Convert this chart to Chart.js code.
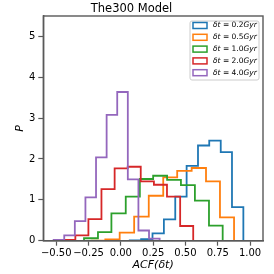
<!DOCTYPE html>
<html>
<head>
<meta charset="utf-8">
<script src="https://cdn.jsdelivr.net/npm/chart.js@4.4.0/dist/chart.umd.min.js"></script>
<style>
  html, body { margin: 0; padding: 0; background: #fff; }
</style>
</head>
<body>
<canvas id="histChart" width="274" height="274"></canvas>
<script>
// delta t values (Gyr), one histogram each
const deltaT = ['0.2', '0.5', '1.0', '2.0', '4.0'];
const colors = ['#1f77b4', '#ff7f0e', '#2ca02c', '#d62728', '#9467bd'];

// bin edges + densities
const edges02 = [0.069, 0.157, 0.245, 0.333, 0.421, 0.509, 0.597, 0.684, 0.773, 0.860, 0.948];
const dens02 = [0.01, 0.04, 0.18, 0.52, 1.08, 1.83, 2.33, 2.45, 2.17, 0.82];

const edges05 = [-0.232, -0.120, -0.009, 0.103, 0.216, 0.328, 0.436, 0.548, 0.659, 0.767, 0.876];
const dens05 = [0.0, 0.03, 0.20, 0.59, 1.10, 1.55, 1.71, 1.78, 1.45, 0.57];

const edges10 = [-0.285, -0.177, -0.073, 0.038, 0.147, 0.250, 0.358, 0.465, 0.573, 0.682, 0.788];
const dens10 = [0.06, 0.21, 0.67, 1.08, 1.51, 1.59, 1.49, 1.36, 0.98, 0.37];

const edges20 = [-0.454, -0.352, -0.251, -0.150, -0.048, 0.053, 0.154, 0.256, 0.357, 0.459, 0.560];
const dens20 = [0.02, 0.13, 0.53, 1.26, 1.77, 1.81, 1.45, 1.37, 1.08, 0.36];

const edges40 = [-0.520, -0.438, -0.356, -0.274, -0.192, -0.110, -0.028, 0.054, 0.136, 0.218, 0.300];
const dens40 = [0.02, 0.13, 0.48, 1.06, 2.04, 3.08, 3.64, 1.50, 0.25, 0.05];

const xTicks = [-0.5, -0.25, 0, 0.25, 0.5, 0.75, 1.0];
const yTicks = [0, 1, 2, 3, 4, 5];

const allEdges = [edges02, edges05, edges10, edges20, edges40];
const allDens = [dens02, dens05, dens10, dens20, dens40];

const axisColor = '#595959';
const font = 'DejaVu Sans';

// outline of a step histogram (histtype='step')
function stepOutline(edges, dens) {
  const pts = [{ x: edges[0], y: 0 }];
  dens.forEach((d, i) => {
    pts.push({ x: edges[i], y: d });
    pts.push({ x: edges[i + 1], y: d });
  });
  pts.push({ x: edges[edges.length - 1], y: 0 });
  return pts;
}

const datasets = deltaT.map((dt, i) => ({
  label: '\u03b4t = ' + dt + 'Gyr',
  data: stepOutline(allEdges[i], allDens[i]),
  borderColor: colors[i],
  borderWidth: 1.8,
  pointRadius: 0,
  fill: false,
  tension: 0,
  order: deltaT.length - 1 - i
}));

const framePlugin = {
  id: 'frame',
  afterDatasetsDraw(chart) {
    const { ctx, chartArea: a } = chart;
    ctx.save();
    ctx.strokeStyle = axisColor;
    ctx.lineWidth = 1.4;
    ctx.strokeRect(a.left, a.top, a.right - a.left, a.bottom - a.top);
    ctx.restore();
  }
};

// legend box in the upper right, like matplotlib's
const legendPlugin = {
  id: 'boxLegend',
  afterDraw(chart) {
    const { ctx, chartArea: a } = chart;
    const w = 69, h = 59;
    const x0 = a.right - 4 - w, y0 = a.top + 5;
    ctx.save();
    ctx.beginPath();
    ctx.roundRect(x0, y0, w, h, 2);
    ctx.fillStyle = 'rgba(255,255,255,0.8)';
    ctx.fill();
    ctx.strokeStyle = '#cccccc';
    ctx.lineWidth = 1;
    ctx.stroke();
    ctx.textBaseline = 'middle';
    deltaT.forEach((dt, i) => {
      const cy = y0 + 4.5 + i * 11.8;
      ctx.strokeStyle = colors[i];
      ctx.lineWidth = 1.5;
      ctx.strokeRect(x0 + 3, cy - 3, 14, 6);
      let tx = x0 + 23;
      ctx.fillStyle = '#000';
      const parts = [['italic', '\u03b4t'], ['normal', ' = ' + dt], ['italic', 'Gyr']];
      parts.forEach(([st, s]) => {
        ctx.font = st + ' 7.5px "' + font + '"';
        ctx.fillText(s, tx, cy);
        tx += ctx.measureText(s).width;
      });
    });
    ctx.restore();
  }
};

new Chart(document.getElementById('histChart'), {
  type: 'line',
  data: { datasets: datasets },
  options: {
    responsive: false,
    animation: false,
    layout: { padding: { left: 0, right: 11, top: 0, bottom: 0 } },
    plugins: {
      legend: { display: false },
      tooltip: { enabled: false },
      title: {
        display: true,
        text: 'The300 Model',
        color: '#000',
        font: { family: font, size: 11.5, weight: 'normal', lineHeight: 1 },
        padding: { top: 3, bottom: 1.5 }
      }
    },
    scales: {
      x: {
        type: 'linear',
        min: -0.6,
        max: 1.1,
        afterBuildTicks: s => { s.ticks = xTicks.map(v => ({ value: v })); },
        afterFit: s => { s.height = 33.3; },
        ticks: {
          autoSkip: false,
          maxRotation: 0,
          padding: 1.5,
          color: '#000',
          font: { family: font, size: 10 },
          callback: v => v.toFixed(2).replace('-', '\u2212')
        },
        grid: { drawOnChartArea: false, tickLength: 5, tickWidth: 1.2, tickColor: axisColor },
        border: { color: axisColor, width: 1.4 },
        title: {
          display: true,
          text: 'ACF(\u03b4t)',
          color: '#000',
          font: { family: font, size: 11, style: 'italic' },
          padding: { top: 0, bottom: 2.4 }
        }
      },
      y: {
        min: 0,
        max: 5.5,
        afterBuildTicks: s => { s.ticks = yTicks.map(v => ({ value: v })); },
        afterFit: s => { s.width = 43.3; },
        ticks: {
          padding: 3,
          color: '#000',
          font: { family: font, size: 10 }
        },
        grid: { drawOnChartArea: false, tickLength: 5, tickWidth: 1.2, tickColor: axisColor },
        border: { color: axisColor, width: 1.4 },
        title: {
          display: true,
          text: 'P',
          color: '#000',
          font: { family: font, size: 11, style: 'italic' },
          padding: { top: 13.4, bottom: 0 }
        }
      }
    }
  },
  plugins: [framePlugin, legendPlugin]
});
</script>
</body>
</html>
